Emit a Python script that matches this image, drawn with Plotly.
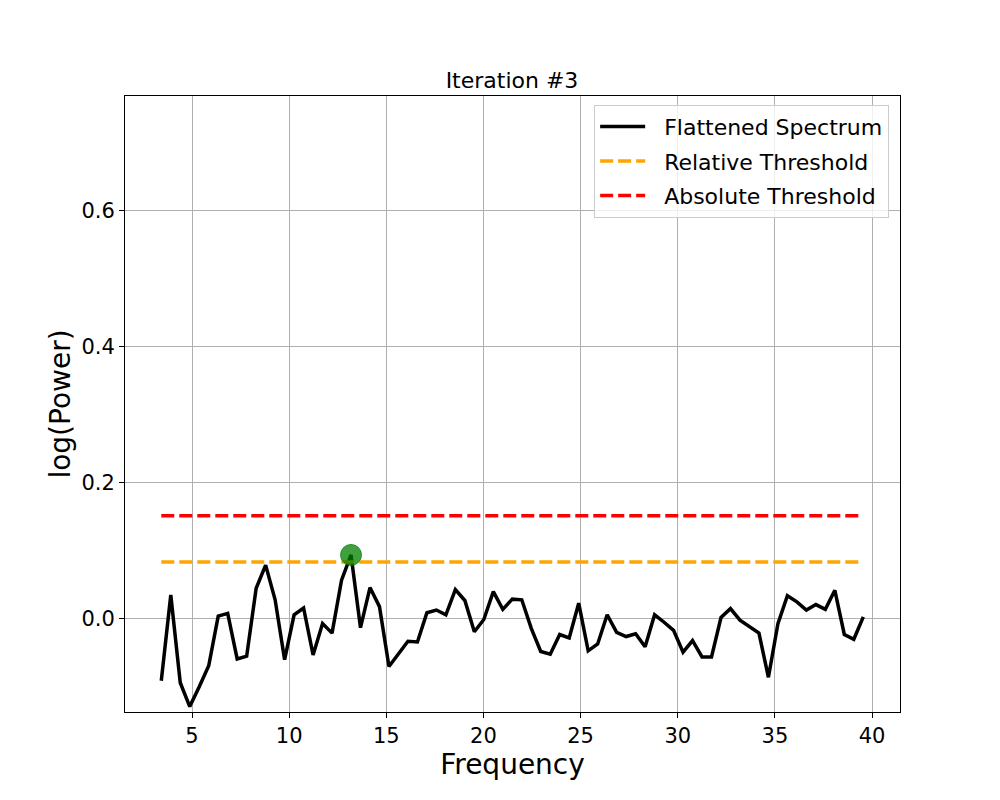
import numpy as np
import plotly.graph_objects as go

# Frequency bins (resolution 0.48828125 Hz, bins 7..81)
freq_res = 0.48828125
bin_idx = list(range(7, 82))
freqs = [k * freq_res for k in bin_idx]

flat_spectrum = [
    -0.091, 0.035, -0.094, -0.129, -0.100, -0.069, 0.004, 0.008, -0.059, -0.055,
    0.045, 0.079, 0.028, -0.060, 0.006, 0.016, -0.053, -0.007, -0.021, 0.057,
    0.094, -0.013, 0.046, 0.018, -0.070, -0.052, -0.033, -0.034, 0.009, 0.013,
    0.006, 0.043, 0.027, -0.019, -0.001, 0.040, 0.014, 0.029, 0.028, -0.014,
    -0.048, -0.052, -0.023, -0.028, 0.023, -0.047, -0.037, 0.006, -0.020, -0.026,
    -0.022, -0.041, 0.006, -0.005, -0.017, -0.049, -0.032, -0.056, -0.056, 0.002,
    0.015, -0.002, -0.012, -0.021, -0.086, -0.007, 0.034, 0.025, 0.013, 0.021,
    0.014, 0.042, -0.023, -0.030, 0.003,
]

relative_threshold = 0.0835
absolute_threshold = 0.1515

peak_freq = [freqs[20]]
peak_power = [0.094]

x_ticks = [5, 10, 15, 20, 25, 30, 35, 40]
y_ticks = [0.0, 0.2, 0.4, 0.6]

FONT = "DejaVu Sans"
NB = "\u00a0\u00a0"

fig = go.Figure()
fig.add_trace(go.Scatter(
    x=freqs, y=flat_spectrum, mode="lines", name=NB + "Flattened Spectrum",
    legendgroup="a", line=dict(color="black", width=3.5),
))
fig.add_trace(go.Scatter(
    x=[freqs[0], freqs[-1]], y=[relative_threshold, relative_threshold],
    mode="lines", name=NB + "Relative Threshold", legendgroup="b",
    line=dict(color="orange", width=3.5, dash="13px,5px"),
))
fig.add_trace(go.Scatter(
    x=[freqs[0], freqs[-1]], y=[absolute_threshold, absolute_threshold],
    mode="lines", name=NB + "Absolute Threshold", legendgroup="c",
    line=dict(color="red", width=3.5, dash="13px,5px"),
))
fig.add_trace(go.Scatter(
    x=peak_freq, y=peak_power, mode="markers", showlegend=False,
    marker=dict(color="rgba(0,128,0,0.75)", size=21,
                line=dict(color="rgba(0,128,0,0.75)", width=1)),
))

axis_common = dict(
    showline=True, linecolor="black", linewidth=1, mirror=True,
    ticks="outside", ticklen=5, tickcolor="black", tickwidth=1,
    showgrid=True, gridcolor="#b0b0b0", gridwidth=1, zeroline=False,
    tickfont=dict(family=FONT, size=21, color="black"),
)

fig.update_layout(
    width=1000, height=800,
    paper_bgcolor="white", plot_bgcolor="white",
    margin=dict(l=117, r=108, t=88, b=96, autoexpand=False),
    font=dict(family=FONT, color="black"),
    title=dict(text="Iteration #3", x=0.504, xanchor="center",
               y=1 - 72 / 800, yref="container", yanchor="middle",
               font=dict(family=FONT, size=22, color="black")),
    xaxis=dict(range=[1.55, 41.44], tickvals=x_ticks,
               title=dict(text="Frequency", font=dict(family=FONT, size=28), standoff=5),
               **axis_common),
    yaxis=dict(range=[-0.137, 0.769], tickvals=y_ticks, tickformat=".1f",
               title=dict(text="log(Power)", font=dict(family=FONT, size=28), standoff=2),
               **axis_common),
    legend=dict(x=0.986, y=0.986, xanchor="right", yanchor="top",
                bgcolor="rgba(255,255,255,0.8)", bordercolor="#cccccc", borderwidth=1,
                font=dict(family=FONT, size=22, color="black"),
                itemwidth=45, tracegroupgap=3),
    showlegend=True,
)

fig.write_html("out.html")
